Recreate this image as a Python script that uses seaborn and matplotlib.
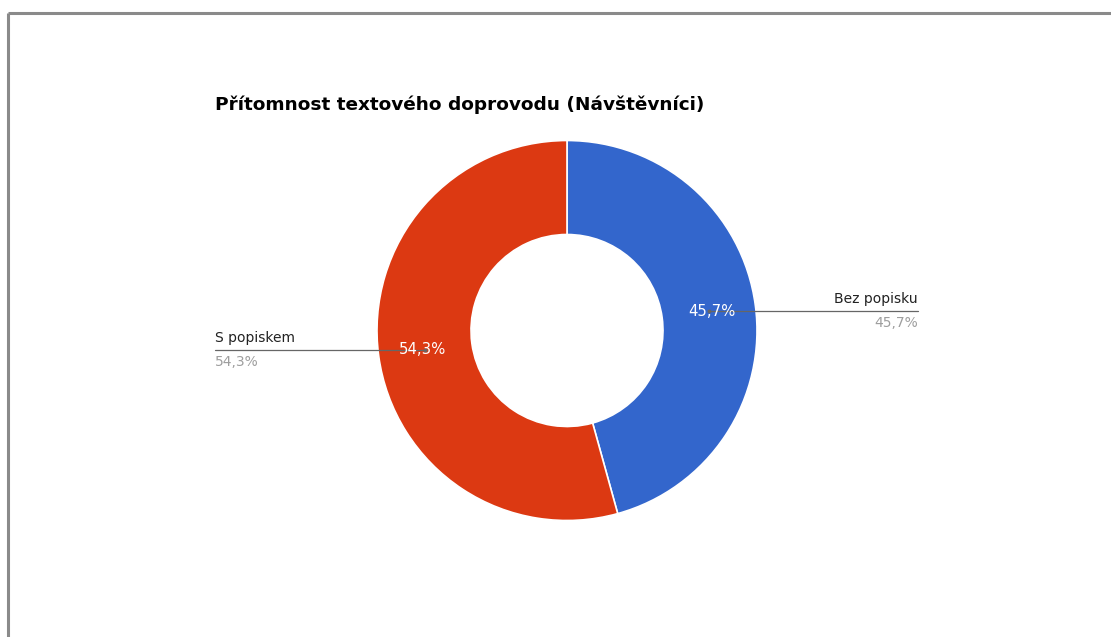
import numpy as np
import matplotlib
matplotlib.use("Agg")
import matplotlib.pyplot as plt
import seaborn as sns

# Data
categories = ["Bez popisku", "S popiskem"]
shares = [45.7, 54.3]
value_labels = ["45,7%", "54,3%"]
title = "Přítomnost textového doprovodu (Návštěvníci)"

sns.set_theme(style="white")
plt.rcParams["font.family"] = ["DejaVu Sans"]

colors = ["#3366cc", "#dc3912"]

W, H = 1111, 637
fig = plt.figure(figsize=(W / 100, H / 100), dpi=100)
fig.patch.set_facecolor("white")
ax = fig.add_axes([0, 0, 1, 1])
ax.set_facecolor("white")


def py(y):
    # pixel row from the top -> axes y (origin at bottom)
    return H - y


cx, cy = 567, py(330.5)
r_out, r_in = 190, 96

wedges, _ = ax.pie(
    shares,
    colors=colors,
    startangle=90,
    counterclock=False,
    center=(cx, cy),
    radius=r_out,
    frame=True,
    wedgeprops=dict(width=r_out - r_in, edgecolor="white", linewidth=1.2),
)
ax.set_xlim(0, W)
ax.set_ylim(0, H)
ax.set_aspect("equal", adjustable="box")
ax.axis("off")

# Outer frame (top and left edges)
ax.plot([8, W], [py(13), py(13)], color="#8a8a8a", lw=2.2, solid_capstyle="butt")
ax.plot([8, 8], [py(13), 0], color="#8a8a8a", lw=2.2, solid_capstyle="butt")

ax.text(215, py(110), title, fontsize=13.3, fontweight="bold", color="black",
        ha="left", va="baseline")

r_mid = (r_out + r_in) / 2
label_x = {"Bez popisku": 918, "S popiskem": 215}
for w, cat, val in zip(wedges, categories, value_labels):
    ang = np.deg2rad((w.theta1 + w.theta2) / 2)
    mx, my = cx + r_mid * np.cos(ang), cy + r_mid * np.sin(ang)
    lx = label_x[cat]
    right = mx > cx
    ax.plot([mx, lx], [my, my], color="#666666", lw=0.9)
    ax.plot([mx], [my], marker="o", ms=1.8, color="#666666")
    ax.text(mx + (3 if right else -3), my, val, color="white", fontsize=10.7,
            fontweight="medium", ha="center", va="center")
    ha = "right" if right else "left"
    ax.text(lx, my + 5, cat, color="#222222", fontsize=10, ha=ha, va="bottom")
    ax.text(lx, my - 5, val, color="#9e9e9e", fontsize=10, ha=ha, va="top")

fig.savefig("out.png", dpi=100, facecolor="white")
